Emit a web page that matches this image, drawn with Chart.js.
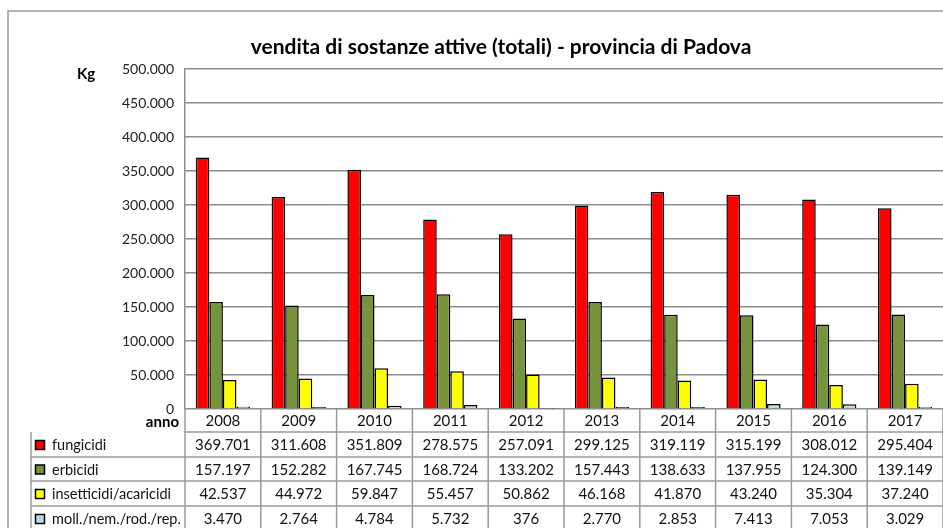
<!DOCTYPE html>
<html lang="it">
<head>
<meta charset="utf-8">
<title>vendita di sostanze attive - provincia di Padova</title>
<script src="https://cdn.jsdelivr.net/npm/chart.js@4/dist/chart.umd.min.js"></script>
<style>
  html, body { margin: 0; padding: 0; background: #fff; }
  canvas { display: block; }
</style>
</head>
<body>
<canvas id="chart" width="943" height="528"></canvas>
<script>
const anni = ['2008', '2009', '2010', '2011', '2012', '2013', '2014', '2015', '2016', '2017'];
const fungicidi = [369701, 311608, 351809, 278575, 257091, 299125, 319119, 315199, 308012, 295404];
const erbicidi = [157197, 152282, 167745, 168724, 133202, 157443, 138633, 137955, 124300, 139149];
const insetticidi = [42537, 44972, 59847, 55457, 50862, 46168, 41870, 43240, 35304, 37240];
const molluschicidi = [3470, 2764, 4784, 5732, 376, 2770, 2853, 7413, 7053, 3029];
const nomiSerie = ['fungicidi', 'erbicidi', 'insetticidi/acaricidi', 'moll./nem./rod./rep.'];
const coloriSerie = ['#ff0000', '#77933c', '#ffff00', '#b7dee8'];
const titolo = 'vendita di sostanze attive (totali) - provincia di Padova';

const FONT = 'Lato, "Open Sans", sans-serif';
const GRIGIO = '#8c8c8c';

// Formatta i numeri con il punto come separatore delle migliaia
function formatta(n) {
    return String(n).replace(/\B(?=(\d{3})+(?!\d))/g, '.');
}

const valoriSerie = [fungicidi, erbicidi, insetticidi, molluschicidi];

// Plugin che disegna titolo, bordo e tabella dei dati sotto il grafico
const tabellaPlugin = {
    id: 'tabella',
    afterDraw(chart) {
        const ctx = chart.ctx;
        const area = chart.chartArea;
        const x = chart.scales.x;
        const passo = x.getPixelForValue(1) - x.getPixelForValue(0);
        const righe = [area.bottom, 432, 457, 481, 506, 531];
        const sinistraLegenda = 31;

        ctx.save();

        // bordo esterno
        ctx.strokeStyle = '#9a9a9a';
        ctx.lineWidth = 1.5;
        ctx.beginPath();
        ctx.moveTo(8, 528);
        ctx.lineTo(8, 11);
        ctx.lineTo(943, 11);
        ctx.stroke();

        // titolo
        ctx.fillStyle = '#000';
        ctx.font = 'bold 21px ' + FONT;
        ctx.textAlign = 'center';
        ctx.textBaseline = 'middle';
        ctx.fillText(titolo, 501, 47);

        // etichette Kg e anno
        ctx.font = 'bold 15px ' + FONT;
        ctx.fillText('Kg', 86, 74);
        ctx.textAlign = 'right';
        ctx.fillText('anno', 179, 422);

        // linee della tabella
        ctx.strokeStyle = '#9a9a9a';
        ctx.lineWidth = 1.5;
        ctx.beginPath();
        for (let r = 1; r < righe.length; r++) {
            ctx.moveTo(r === 1 ? area.left : sinistraLegenda, righe[r]);
            ctx.lineTo(943, righe[r]);
        }
        ctx.moveTo(sinistraLegenda, righe[1]);
        ctx.lineTo(sinistraLegenda, 528);
        for (let i = 0; i <= anni.length; i++) {
            const bx = x.getPixelForValue(i) - passo / 2;
            ctx.moveTo(bx, area.bottom);
            ctx.lineTo(bx, 528);
        }
        ctx.stroke();

        // anni
        ctx.fillStyle = '#111';
        ctx.font = '15px ' + FONT;
        ctx.textAlign = 'center';
        anni.forEach((a, i) => {
            ctx.fillText(a, x.getPixelForValue(i), (righe[0] + righe[1]) / 2 + 1);
        });

        // righe dei valori con legenda
        valoriSerie.forEach((serie, s) => {
            const cy = (righe[s + 1] + righe[s + 2]) / 2 + 1;
            ctx.fillStyle = coloriSerie[s];
            ctx.fillRect(35.5, cy - 5, 9, 9);
            ctx.strokeStyle = '#000';
            ctx.lineWidth = 1.5;
            ctx.strokeRect(35.5, cy - 5, 9, 9);
            ctx.fillStyle = '#111';
            ctx.textAlign = 'left';
            ctx.font = '14.5px ' + FONT;
            ctx.fillText(nomiSerie[s], 52, cy);
            ctx.textAlign = 'center';
            ctx.font = '15px ' + FONT;
            serie.forEach((v, i) => {
                ctx.fillText(formatta(v), x.getPixelForValue(i), cy);
            });
        });

        ctx.restore();
    }
};

const ctx = document.getElementById('chart').getContext('2d');
new Chart(ctx, {
    type: 'bar',
    data: {
        labels: anni,
        datasets: nomiSerie.map((nome, s) => ({
            label: nome,
            data: valoriSerie[s],
            backgroundColor: coloriSerie[s],
            borderColor: '#000',
            borderWidth: 1.5,
            borderSkipped: 'bottom',
            categoryPercentage: 0.715,
            barPercentage: 1.0
        }))
    },
    options: {
        responsive: false,
        animation: false,
        devicePixelRatio: 1,
        layout: { padding: { top: 69, bottom: 119, left: 0, right: 0 } },
        plugins: {
            legend: { display: false },
            tooltip: { enabled: false },
            title: { display: false }
        },
        scales: {
            x: { display: false },
            y: {
                min: 0,
                max: 500000,
                ticks: {
                    stepSize: 50000,
                    padding: 11,
                    color: '#222',
                    font: { family: FONT, size: 14 },
                    callback: v => formatta(v)
                },
                grid: { color: GRIGIO, lineWidth: 1.5, drawTicks: false },
                border: { color: GRIGIO, width: 1.5 },
                afterFit: scale => { scale.width = 185; }
            }
        }
    },
    plugins: [tabellaPlugin]
});
</script>
</body>
</html>
